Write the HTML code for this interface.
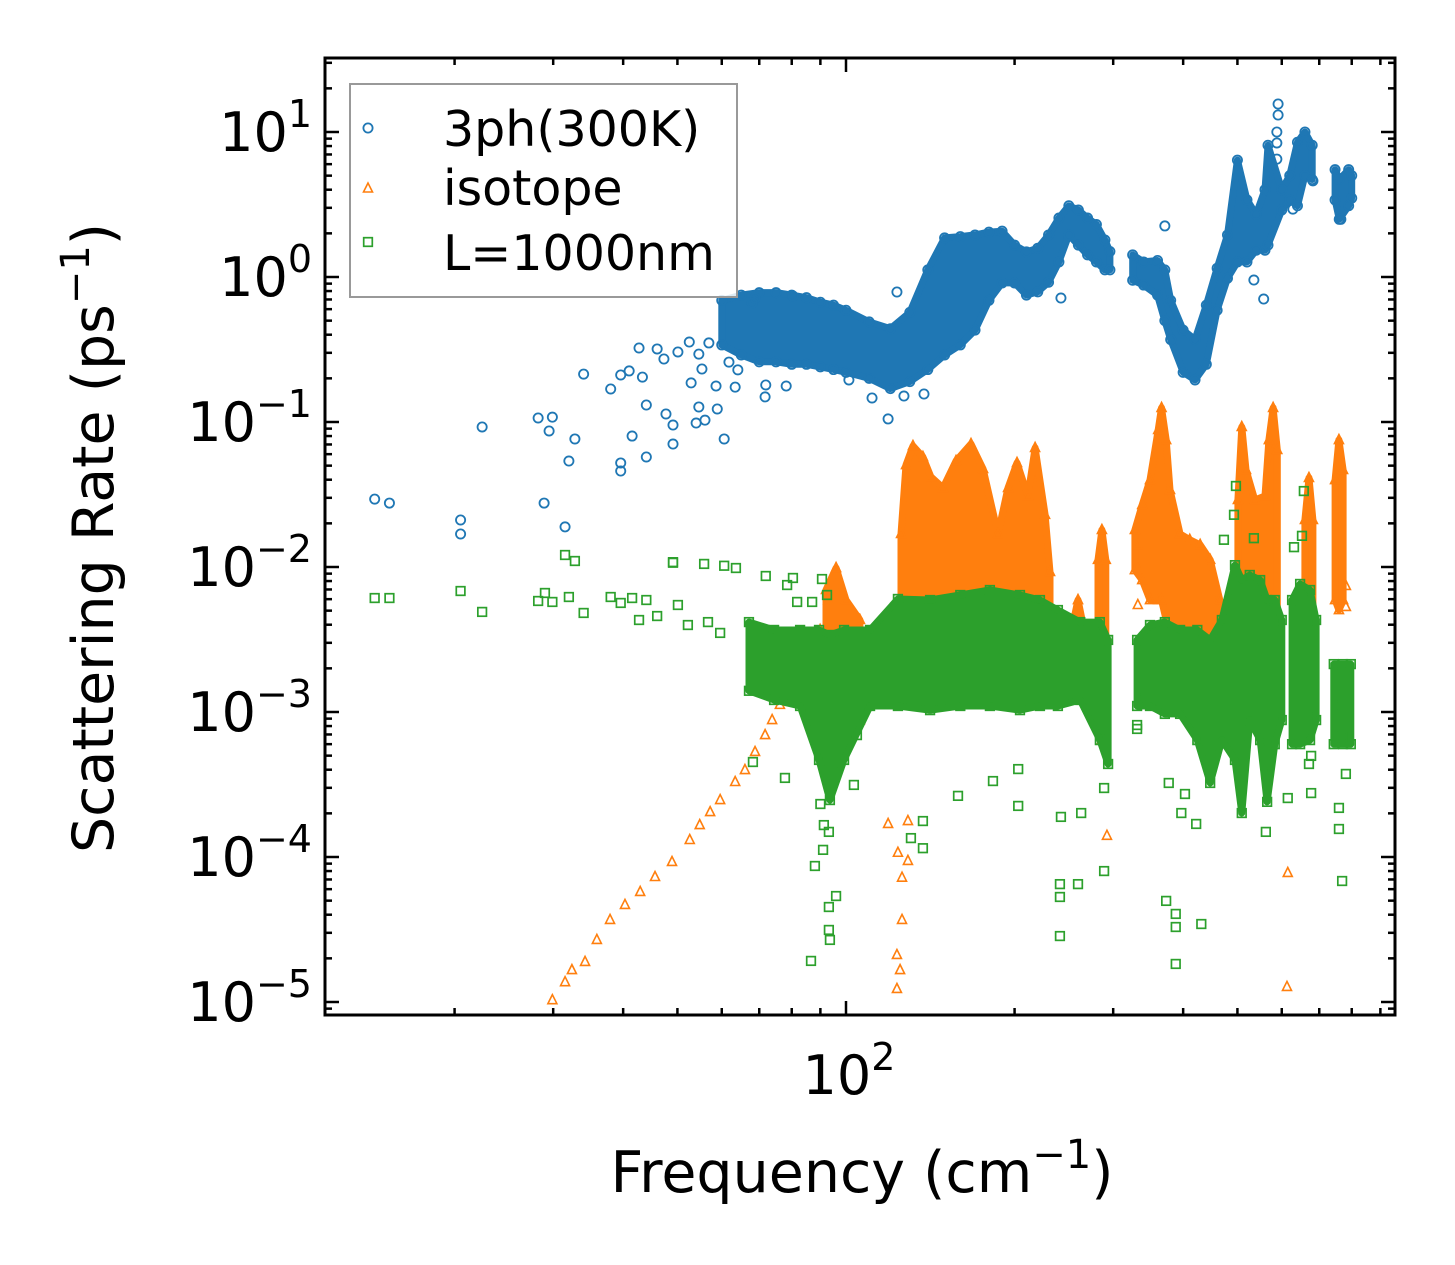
<!DOCTYPE html>
<html><head><meta charset="utf-8"><style>
html,body{margin:0;padding:0;background:#fff;}
svg{display:block;font-family:"DejaVu Sans","Liberation Sans",sans-serif;}
</style></head><body>
<svg id="chart" width="1455" height="1265" viewBox="0 0 1455 1265" xmlns="http://www.w3.org/2000/svg">
<rect x="0" y="0" width="1455" height="1265" fill="#fff"/>
<defs><clipPath id="plotclip"><rect x="325" y="58" width="1070" height="957"/></clipPath></defs>
<g id="marks" clip-path="url(#plotclip)"></g>
<g id="axes"></g>
<text x="862" y="1192" text-anchor="middle" font-size="57" fill="#000">Frequency (cm<tspan dy="-24" font-size="40">−1</tspan><tspan dy="24">)</tspan></text>
<text transform="translate(113,538) rotate(-90)" text-anchor="middle" font-size="57" fill="#000">Scattering Rate (ps<tspan dy="-24" font-size="40">−1</tspan><tspan dy="24">)</tspan></text>
<g>
<rect x="350" y="84" width="387" height="213" fill="#fff" fill-opacity="0.85" stroke="#999" stroke-width="2"/>
<circle cx="368" cy="128" r="4.6" fill="none" stroke="#1f77b4" stroke-width="1.8"/>
<text x="443" y="146" font-size="49" fill="#000">3ph(300K)</text>
<polygon points="368,183 363.5,192 372.5,192" fill="none" stroke="#ff7f0e" stroke-width="1.6"/>
<text x="443" y="205" font-size="49" fill="#000">isotope</text>
<rect x="363.7" y="237.7" width="8.6" height="8.6" fill="none" stroke="#2ca02c" stroke-width="1.7"/>
<text x="443" y="270" font-size="49" fill="#000">L=1000nm</text>
</g>
</svg>
<script>
// ---- data (frequency in cm^-1, rate in ps^-1) ----
const blueBandFreq=[60,65,70,75,80,85,90,95,100,110,120,130,140,150,160,170,180,190,200,210,220,230,240,250,260,270,280,290,296,null,325,340,360,371,380,400,420,440,460,480,500,520,540,560,567,600,620,640,660,680,null,747,760,790,800];
const blueBandLo=[.34,.29,.26,.26,.25,.25,.24,.23,.22,.20,.17,.19,.23,.29,.34,.43,.69,.91,.91,.75,.79,.92,1.27,1.95,1.66,1.42,1.27,1.12,1.12,null,.95,.88,.75,.5,.37,.22,.195,.25,.59,.98,1.27,1.27,1.53,1.53,1.66,2.9,3.4,3.1,5.0,4.7,null,3.4,2.5,3.1,3.5];
const blueBandHi=[.69,.75,.78,.78,.75,.72,.67,.64,.59,.49,.44,.57,1.12,1.86,1.9,1.95,2.04,2.07,1.66,1.49,1.58,1.95,2.55,3.1,2.9,2.55,2.3,1.8,1.5,null,1.42,1.27,1.3,1.12,.69,.43,.37,.64,1.15,1.95,6.4,3.4,2.7,4.0,8.1,4.0,5.0,8.5,10,8.1,null,5.5,4.7,5.5,5.0];
const bluePtFreq=[14.4,15.3,20.5,20.5,22.4,28.2,29.9,29.5,28.9,31.5,32.0,32.8,34.0,38.0,39.6,41.0,43.3,42.7,46.0,47.3,50.1,52.5,54.6,56.9,44.0,47.7,49.1,49.1,41.5,39.6,39.6,44.0,52.9,55.3,58.6,54.6,56.0,54.0,58.9,60.6,71.7,71.9,78.2,61.8,64.1,63.4,68.8,80.4,68.0,118.9,111.3,126.9,137.8,101.2,123.3,242,371,557,535,591,591,588,588,588,765,682,628];
const bluePtRate=[.0294,.0276,.0211,.0169,.0924,.1066,.108,.0867,.0276,.0189,.0538,.0764,.214,.169,.211,.225,.204,.324,.319,.272,.304,.356,.294,.351,.131,.1136,.0953,.0705,.080,.0522,.0459,.0574,.186,.232,.177,.127,.103,.0984,.123,.0764,.149,.18,.177,.259,.229,.174,.716,.74,.662,.105,.1465,.151,.156,.195,.788,.716,2.25,.705,.953,15.6,13.1,10,8.4,6.5,2.5,4.6,2.94];

const orangeBandFreq=[92.1,96.0,100,105.9,null,125.4,128,131.7,137.2,141.8,149,157.2,167.2,175.7,186.8,194.7,202,211.3,217.6,226.7,231.4,null,255,259.6,264,null,281.8,286.4,291,null,328,338,349,361,366,373,379,395,411,429,447,465,485,null,501,509,518,537,560,569,579,589,null,660,671,682,null,747,759,772];
const orangeBandLo=[.00121,.00121,.00088,.00088,null,.00268,.00268,.00268,.00268,.00268,.00268,.00268,.00268,.00268,.00268,.00268,.00268,.00268,.00268,.00268,.00268,null,.00121,.00121,.00121,null,.00088,.00064,.00088,null,.00953,.00813,.00592,.00592,.00592,.00431,.00314,.00166,.00121,.00121,.00142,.00142,.00121,null,.00268,.00268,.00268,.00166,.00166,.00229,.00229,.00229,null,.00314,.00314,.00314,null,.00592,.00505,.00592];
const orangeBandHi=[.00694,.00984,.00592,.00431,null,.0169,.0505,.0683,.0574,.0418,.0351,.0538,.0705,.0474,.0169,.0351,.0522,.0309,.0662,.0229,.00924,null,.00431,.00592,.00431,null,.0112,.018,.0112,null,.018,.0268,.0398,.0881,.125,.0751,.034,.0169,.0154,.0142,.0112,.00592,.00431,null,.029,.0924,.0467,.029,.0309,.0751,.125,.0641,null,.0211,.0411,.0211,null,.0398,.0751,.0467];
const orangePtFreq=[29.9,31.5,32.4,34.2,35.9,37.9,40.3,42.9,45.6,48.9,52.6,54.8,57.2,59.6,63.4,66.0,68.8,71.7,73.8,76.2,79.4,82.8,86.3,89.9,92.9,118.9,129,123.8,129,125.9,125.9,123.3,124.9,123.3,292.4,615,613,332,332,332,781,781];
const orangePtRate=[1.03e-5,1.37e-5,1.66e-5,1.89e-5,2.68e-5,3.68e-5,4.67e-5,5.74e-5,7.28e-5,9.24e-5,1.31e-4,1.66e-4,2.04e-4,2.47e-4,3.29e-4,3.98e-4,5.3e-4,6.93e-4,8.8e-4,1.12e-3,1.42e-3,1.95e-3,2.68e-3,3.68e-3,5.9e-3,1.69e-4,1.77e-4,1.07e-4,9.4e-5,7.2e-5,3.68e-5,2.11e-5,1.66e-5,1.23e-5,1.4e-4,7.76e-5,1.27e-5,5.47e-3,.0103,.0142,.0053,.0074];

const greenBandFreq=[67.1,74.4,82.8,89.5,93.6,99.2,110.4,123.8,141.3,160,180.7,204.5,222,239,262,284,293.8,null,331,349,371,395,424,447,469,495,509,526,549,565,583,600,null,626,647,674,691,null,743,772,797];
const greenBandLo=[.0014,.00121,.0011,4.67e-4,2.47e-4,4.67e-4,.0011,.0011,.00103,.0011,.0011,.00103,.0011,.0011,.00121,6.4e-4,4.38e-4,null,.0011,.0011,9.7e-4,9.7e-4,6.4e-4,3.24e-4,6.4e-4,4.67e-4,2.01e-4,8.8e-4,6.4e-4,2.4e-4,6.0e-4,8.8e-4,null,6.0e-4,6.0e-4,6.4e-4,8.8e-4,null,6.0e-4,6.0e-4,6.0e-4];
const greenBandHi=[.00417,.00368,.00368,.00368,.0034,.00368,.00368,.00602,.00592,.00641,.00694,.00641,.00592,.00505,.00417,.00417,.00314,null,.00314,.00398,.00417,.00368,.00368,.00314,.00431,.0103,.00813,.00881,.00813,.00592,.00592,.00431,null,.00592,.00764,.00694,.00431,null,.00214,.00214,.00214];
const greenPtFreq=[14.4,15.3,20.5,22.4,28.2,29.0,29.9,31.5,32.8,32.0,34.0,38.0,39.6,41.5,42.7,44.0,46.0,49.1,55.8,60.6,63.6,50.1,52.2,56.7,59.6,71.9,78.5,80.4,90.6,81.8,87.0,92.5,68.2,68.8,69.7,77.8,68.2,90.0,91.3,93.2,91.0,88.0,96.0,93.2,93.2,93.6,86.6,103.3,104.6,137.2,130.6,137.2,158.5,183,203,203,242,263,241,259.6,241,241,289,289,377,403,397,422,373,388,388,431,388,562,615,677,759,759,769,781,497,657,493,473,535,652,631,335,331,331,759,769,677,677,671,49.1];
const greenPtRate=[.00611,.00611,.00683,.0049,.00583,.00662,.00574,.0121,.011,.00621,.00482,.00621,.00565,.00611,.00431,.00592,.00459,.0108,.0105,.0102,.00984,.00547,.00398,.00417,.00351,.00867,.00751,.0084,.00826,.00574,.00574,.00641,.00314,.00247,.00174,3.51e-4,4.52e-4,2.32e-4,1.66e-4,1.49e-4,1.12e-4,8.67e-5,5.38e-5,4.52e-5,3.14e-5,2.68e-5,1.92e-5,3.14e-4,6.93e-4,1.77e-4,1.35e-4,1.15e-4,2.64e-4,3.34e-4,2.25e-4,4.04e-4,1.89e-4,2.01e-4,6.5e-5,6.5e-5,5.3e-5,2.85e-5,8.0e-5,2.99e-4,3.24e-4,2.72e-4,2.01e-4,1.69e-4,4.98e-5,4.05e-5,3.29e-5,3.45e-5,1.83e-5,1.49e-4,2.55e-4,2.76e-4,2.18e-4,1.56e-4,6.83e-5,3.74e-4,.0362,.0334,.0229,.0154,.0158,.0164,.0137,.00123,8.13e-4,7.64e-4,.0011,6.73e-4,9.1e-4,4.98e-4,4.38e-4,.0107];

const yTickExps=[1,0,-1,-2,-3,-4,-5];
const xTickExps=[2];
const xMinorVals=[20,30,40,50,60,70,80,90,200,300,400,500,600,700,800,900];

// ---- axis functions ----
const X0=325,X1=1395,Y0=58,Y1=1015;
function xS(f){return 846+560*Math.log10(f/100);}
function yS(r){return 277-145*Math.log10(r);}
const NS="http://www.w3.org/2000/svg";
const marks=document.getElementById('marks');
const axes=document.getElementById('axes');
function mk(tag,attrs,parent){const e=document.createElementNS(NS,tag);for(const k in attrs)e.setAttribute(k,attrs[k]);parent.appendChild(e);return e;}

const C={blue:'#1f77b4',orange:'#ff7f0e',green:'#2ca02c'};
function marker(kind,cx,cy,parent){
  let e;
  if(kind==='circle'){e=mk('circle',{cx:cx,cy:cy,r:4.6,fill:'none',stroke:C.blue,'stroke-width':1.8},parent);}
  else if(kind==='tri'){e=mk('polygon',{points:(cx)+','+(cy-5.5)+' '+(cx-4.5)+','+(cy+3.5)+' '+(cx+4.5)+','+(cy+3.5),fill:'none',stroke:C.orange,'stroke-width':1.6},parent);}
  else {e=mk('rect',{x:cx-4.3,y:cy-4.3,width:8.6,height:8.6,fill:'none',stroke:C.green,'stroke-width':1.7},parent);}
  return e;
}
function drawBand(freq,lo,hi,kind,color,name){
  const g=mk('g',{},marks);
  
  
  let seg=[];
  const segs=[];
  for(let i=0;i<=freq.length;i++){
    if(i===freq.length||freq[i]===null){if(seg.length)segs.push(seg);seg=[];}
    else seg.push(i);
  }
  segs.forEach(s=>{
    const top=s.map(i=>xS(freq[i]).toFixed(1)+','+yS(hi[i]).toFixed(1));
    const bot=s.slice().reverse().map(i=>xS(freq[i]).toFixed(1)+','+yS(lo[i]).toFixed(1));
    const p=mk('polygon',{points:top.concat(bot).join(' '),fill:color,stroke:color,'stroke-width':7,'stroke-linejoin':'round'},g);
    
    
    s.forEach(i=>{
      const a=marker(kind,xS(freq[i]),yS(hi[i]),g);
      
      
      const b=marker(kind,xS(freq[i]),yS(lo[i]),g);
      
      
    });
  });
}
function drawPts(freq,rate,kind,name){
  const g=mk('g',{},marks);
  
  
  for(let i=0;i<freq.length;i++){
    const m=marker(kind,xS(freq[i]),yS(rate[i]),g);
    
    
  }
}
drawBand(blueBandFreq,blueBandLo,blueBandHi,'circle',C.blue,'3ph-band');
drawPts(bluePtFreq,bluePtRate,'circle','3ph-series');
drawBand(orangeBandFreq,orangeBandLo,orangeBandHi,'tri',C.orange,'isotope-band');
drawPts(orangePtFreq,orangePtRate,'tri','isotope-series');
drawBand(greenBandFreq,greenBandLo,greenBandHi,'sq',C.green,'boundary-band');
drawPts(greenPtFreq,greenPtRate,'sq','boundary-series');

// ---- frame & ticks ----
const frame=mk('rect',{x:X0,y:Y0,width:X1-X0,height:Y1-Y0,fill:'none',stroke:'#000','stroke-width':3},axes);


function line(x1,y1,x2,y2,name){const l=mk('line',{x1:x1,y1:y1,x2:x2,y2:y2,stroke:'#000','stroke-width':2.5},axes);}
yTickExps.forEach(e=>{
  const y=yS(Math.pow(10,e));
  line(X0,y,X0+14,y,'y-major-tick');
  line(X1,y,X1-14,y,'y-major-tick-right');
  const t=mk('text',{x:312,y:y+19,'text-anchor':'end','font-size':54,fill:'#000'},axes);
  
  
  t.appendChild(document.createTextNode('10'));
  const sup=mk('tspan',{dy:-24,'font-size':38},t);
  sup.textContent=(e<0?'\u2212'+(-e):''+e);
});
for(let e=-6;e<=1;e++){for(let m=2;m<=9;m++){const y=yS(m*Math.pow(10,e));if(y>Y0+2&&y<Y1-2){line(X0,y,X0+7,y,'y-minor-tick');line(X1,y,X1-7,y,'y-minor-tick-right');}}}
xTickExps.forEach(e=>{
  const x=xS(Math.pow(10,e));
  line(x,Y1,x,Y1-14,'x-major-tick');
  line(x,Y0,x,Y0+14,'x-major-tick-top');
  const t=mk('text',{x:x+3,y:1094,'text-anchor':'middle','font-size':54,fill:'#000'},axes);
  
  
  t.appendChild(document.createTextNode('10'));
  const sup=mk('tspan',{dy:-24,'font-size':38},t);sup.textContent=''+e;
});
xMinorVals.forEach(v=>{const x=xS(v);line(x,Y1,x,Y1-7,'x-minor-tick');line(x,Y0,x,Y0+7,'x-minor-tick-top');});
</script>
</body></html>
